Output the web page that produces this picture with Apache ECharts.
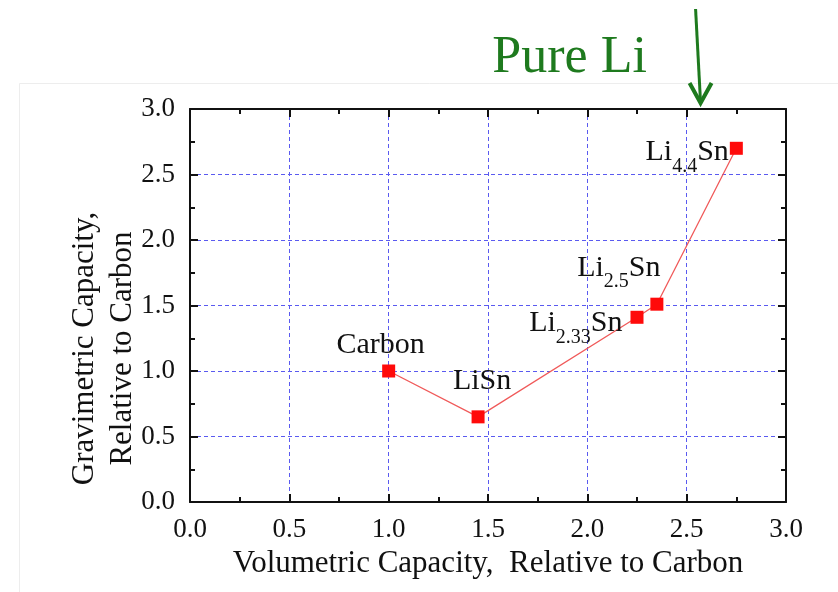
<!DOCTYPE html>
<html>
<head>
<meta charset="utf-8">
<script src="https://cdn.jsdelivr.net/npm/echarts@6/dist/echarts.min.js"></script>
<style>
  html, body { margin: 0; padding: 0; background: #ffffff; }
  #chart { width: 838px; height: 592px; }
</style>
</head>
<body>
<div id="chart"></div>
<script>
// Capacities of Li–Sn phases relative to carbon
const phases = ['Carbon', 'LiSn', 'Li2.33Sn', 'Li2.5Sn', 'Li4.4Sn'];
const volumetric = [1.0, 1.45, 2.25, 2.35, 2.75];
const gravimetric = [1.0, 0.65, 1.41, 1.51, 2.70];
// Rich-text labels (subscripts for stoichiometry)
const phaseLabels = ['{m|Carbon}', '{m|LiSn}', '{m|Li}{s|2.33}{m|Sn}', '{m|Li}{s|2.5}{m|Sn}', '{m|Li}{s|4.4}{m|Sn}'];
const tickValues = [0.0, 0.5, 1.0, 1.5, 2.0, 2.5, 3.0];
const pureLiVolumetric = 2.57;

const FONT = '"Liberation Serif", "Times New Roman", serif';
const labelRich = {
  m: { fontFamily: FONT, fontSize: 30, color: '#111', lineHeight: 30, verticalAlign: 'middle' },
  s: { fontFamily: FONT, fontSize: 20, color: '#111', lineHeight: 48, verticalAlign: 'bottom' }
};
const labelPlacement = [
  { position: 'top', distance: 4, offset: [-8, 0] },
  { position: 'top', distance: 14, offset: [4, 0] },
  { position: 'left', distance: 8, offset: [0, 6] },
  { position: 'top', distance: 6, offset: [-38, 0] },
  { position: 'left', distance: 3, offset: [2, 4] }
];

const points = volumetric.map((v, i) => ({
  value: [v, gravimetric[i]],
  name: phases[i],
  label: Object.assign({ show: true, formatter: phaseLabels[i], rich: labelRich }, labelPlacement[i])
}));

const axisMin = tickValues[0];
const axisMax = tickValues[tickValues.length - 1];
const fmt = v => v.toFixed(1);

function frameAxis(position, withLabels, isX) {
  return {
    type: 'value',
    position: position,
    min: axisMin, max: axisMax, interval: 0.5,
    axisLine: { show: true, onZero: false, lineStyle: { color: '#111', width: 2 } },
    axisTick: { show: true, inside: true, length: 8, lineStyle: { color: '#111', width: 2 } },
    minorTick: { show: true, splitNumber: 2, length: 5, lineStyle: { color: '#111', width: 2 } },
    axisLabel: withLabels ? {
      show: true, formatter: fmt, fontFamily: FONT, fontSize: 27, color: '#111',
      margin: isX ? 14 : 15
    } : { show: false },
    splitLine: withLabels ? {
      show: true, lineStyle: { color: '#5a5af0', type: [4, 3], width: 1 }
    } : { show: false }
  };
}

const xMain = frameAxis('bottom', true, true);
xMain.name = 'Volumetric Capacity,  Relative to Carbon';
xMain.nameLocation = 'middle';
xMain.nameGap = 44;
xMain.nameTextStyle = { fontFamily: FONT, fontSize: 31, color: '#111' };

const yMain = frameAxis('left', true, false);
yMain.name = 'Gravimetric Capacity,\nRelative to Carbon';
yMain.nameLocation = 'middle';
yMain.nameGap = 48;
yMain.nameMoveOverlap = false;
yMain.nameTextStyle = { fontFamily: FONT, fontSize: 31, color: '#111', lineHeight: 38, padding: [0, 86, 0, 0] };

const chart = echarts.init(document.getElementById('chart'), null, { renderer: 'canvas' });
chart.setOption({
  backgroundColor: '#ffffff',
  animation: false,
  grid: { left: 190, right: 52, top: 109, bottom: 90, outerBoundsMode: 'none' },
  xAxis: [xMain, frameAxis('top', false, true)],
  yAxis: [yMain, frameAxis('right', false, false)],
  series: [{
    type: 'line',
    xAxisIndex: 0, yAxisIndex: 0,
    data: points,
    symbol: 'rect',
    symbolSize: 13,
    itemStyle: { color: '#ff0a0a' },
    lineStyle: { color: '#f05a5a', width: 1.3 },
    z: 3
  }]
});

// "Pure Li" annotation arrow pointing at the top axis
const tip = chart.convertToPixel({ xAxisIndex: 0, yAxisIndex: 0 }, [pureLiVolumetric, axisMax]);
const tipX = tip[0], tipY = tip[1] - 6;
chart.setOption({
  graphic: [
    {
      type: 'rect', silent: true, z: -10,
      shape: { x: 19.5, y: 83.5, width: 830, height: 600 },
      style: { fill: 'none', stroke: '#ededed', lineWidth: 1 }
    },
    {
      type: 'line', silent: true,
      shape: { x1: tipX - 5, y1: 9, x2: tipX, y2: tipY },
      style: { stroke: '#1e7a1e', lineWidth: 3 }
    },
    {
      type: 'polyline', silent: true,
      shape: { points: [[tipX - 11, tipY - 20], [tipX, tipY], [tipX + 11, tipY - 20]] },
      style: { stroke: '#1e7a1e', lineWidth: 4, fill: 'none', lineJoin: 'miter' }
    },
    {
      type: 'text', silent: true,
      x: tipX - 131, y: 58,
      style: {
        text: 'Pure Li', fontFamily: FONT, fontSize: 52, fill: '#1e7a1e',
        align: 'center', verticalAlign: 'middle'
      }
    }
  ]
});
</script>
</body>
</html>
